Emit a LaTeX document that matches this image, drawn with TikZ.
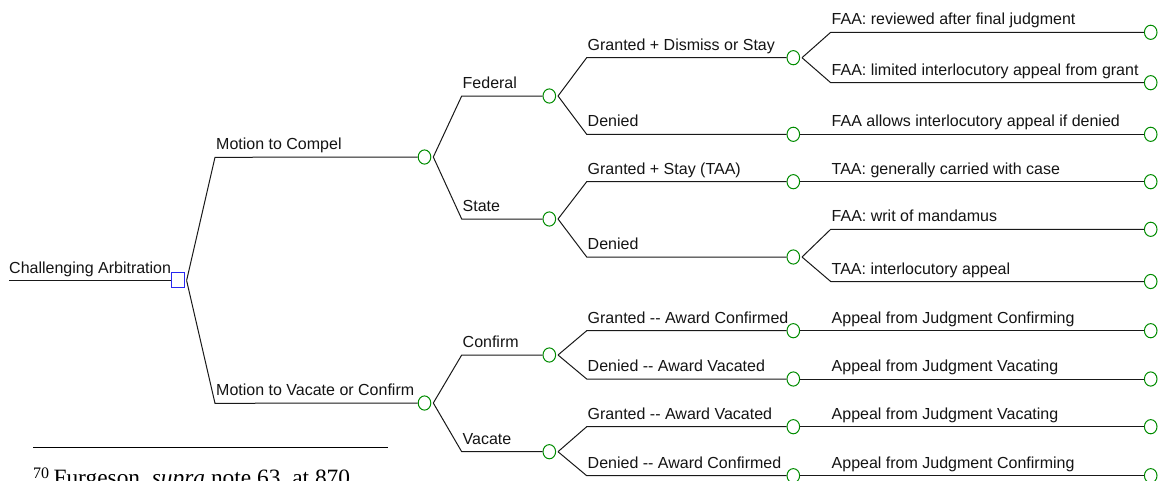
\documentclass[tikz,border=0pt]{standalone}
\usepackage{fontspec}
\setmainfont{Liberation Sans}
\newfontfamily\noteserif{Liberation Serif}
\usetikzlibrary{shapes.geometric}
\definecolor{chancegreen}{RGB}{0,140,0}
\definecolor{decblue}{RGB}{40,40,240}
\newcommand{\dd}{{-}{-}}
\tikzset{
  edge/.style={draw=black!90, line width=1pt},
  chance/.style={ellipse, draw=chancegreen, line width=1pt, minimum width=12.6pt, minimum height=14.2pt, inner sep=0pt, fill=white},
  decision/.style={rectangle, draw=decblue, line width=1pt, minimum width=12.6pt, minimum height=14.6pt, inner sep=0pt},
  lbl/.style={anchor=base west, inner sep=0pt, font=\fontsize{16}{19}\selectfont, text=black!92}
}
\begin{document}
\begin{tikzpicture}[x=1pt,y=-1pt]
\useasboundingbox (0,0) rectangle (1166,480);
\clip (0,0) rectangle (1166,480);

% ---------- root ----------
\coordinate (rs) at (9,280.7);
\node[decision] (r) at (178,280) {};
\coordinate (a0) at (186.6,280.5);
\draw[edge] (rs) -- (r.west |- rs);
\node[lbl] (tr) at (9,273.2) {Challenging Arbitration};

% ---------- level 1 ----------
\node[chance] (c1) at (424.5,157) {};
\node[chance] (c2) at (424.5,403) {};
\coordinate (s1) at (215,157.3);
\coordinate (s2) at (215,403.3);
\draw[edge] (a0) -- (s1) -- (c1.west);
\draw[edge] (a0) -- (s2) -- (c2.west);
\node[lbl] (t1) at (216,149.5) {Motion to Compel};
\node[lbl] (t2) at (216,395.5) {Motion to Vacate or Confirm};
\coordinate (a1) at (433.3,157);
\coordinate (a2) at (433.3,403);

% ---------- level 2 ----------
\node[chance] (c11) at (549.3,96) {};
\node[chance] (c12) at (549.3,219) {};
\node[chance] (c21) at (549.3,355) {};
\node[chance] (c22) at (549.3,451.7) {};
\coordinate (s11) at (461.7,96);
\coordinate (s12) at (461.7,219);
\coordinate (s21) at (461.7,355);
\coordinate (s22) at (461.7,451.7);
\draw[edge] (a1) -- (s11) -- (c11.west);
\draw[edge] (a1) -- (s12) -- (c12.west);
\draw[edge] (a2) -- (s21) -- (c21.west);
\draw[edge] (a2) -- (s22) -- (c22.west);
\node[lbl] (t11) at (462.5,88.5) {Federal};
\node[lbl] (t12) at (462.5,211.5) {State};
\node[lbl] (t21) at (462.5,347.5) {Confirm};
\node[lbl] (t22) at (462.5,444.2) {Vacate};
\coordinate (a11) at (558,96);
\coordinate (a12) at (558,219);
\coordinate (a21) at (558,355);
\coordinate (a22) at (558,451.7);

% ---------- level 3 ----------
\node[chance] (c111) at (793.3,57.7) {};
\node[chance] (c112) at (793.3,134.3) {};
\node[chance] (c121) at (793.3,181.7) {};
\node[chance] (c122) at (793.3,257) {};
\node[chance] (c211) at (793.3,330.7) {};
\node[chance] (c212) at (793.3,379) {};
\node[chance] (c221) at (793.3,426.7) {};
\node[chance] (c222) at (793.3,475.7) {};
\coordinate (s111) at (586.7,57.7);
\coordinate (s112) at (586.7,134.3);
\coordinate (s121) at (586.7,181.7);
\coordinate (s122) at (586.7,257);
\coordinate (s211) at (586.7,330.7);
\coordinate (s212) at (586.7,379);
\coordinate (s221) at (586.7,426.7);
\coordinate (s222) at (586.7,475.7);
\draw[edge] (a11) -- (s111) -- (c111.west);
\draw[edge] (a11) -- (s112) -- (c112.west);
\draw[edge] (a12) -- (s121) -- (c121.west);
\draw[edge] (a12) -- (s122) -- (c122.west);
\draw[edge] (a21) -- (s211) -- (c211.west);
\draw[edge] (a21) -- (s212) -- (c212.west);
\draw[edge] (a22) -- (s221) -- (c221.west);
\draw[edge] (a22) -- (s222) -- (c222.west);
\node[lbl] (t111) at (587.5,50.2) {Granted + Dismiss or Stay};
\node[lbl] (t112) at (587.5,126.8) {Denied};
\node[lbl] (t121) at (587.5,174.2) {Granted + Stay (TAA)};
\node[lbl] (t122) at (587.5,249.5) {Denied};
\node[lbl] (t211) at (587.5,323.2) {Granted \dd{} Award Confirmed};
\node[lbl] (t212) at (587.5,371.5) {Denied \dd{} Award Vacated};
\node[lbl] (t221) at (587.5,419.2) {Granted \dd{} Award Vacated};
\node[lbl] (t222) at (587.5,468.2) {Denied \dd{} Award Confirmed};
\coordinate (a111) at (802,57.7);
\coordinate (a122) at (802,257);

% ---------- level 4 (leaves) ----------
\node[chance] (e1) at (1150.7,32.3) {};
\node[chance] (e2) at (1150.7,82.7) {};
\node[chance] (e3) at (1150.7,134.3) {};
\node[chance] (e4) at (1150.7,181.7) {};
\node[chance] (e5) at (1150.7,229.3) {};
\node[chance] (e6) at (1150.7,281.5) {};
\node[chance] (e7) at (1150.7,330.7) {};
\node[chance] (e8) at (1150.7,379) {};
\node[chance] (e9) at (1150.7,426.7) {};
\node[chance] (e10) at (1150.7,475.7) {};
\coordinate (u1) at (830.7,32.3);
\coordinate (u2) at (830.7,82.7);
\coordinate (u5) at (830.7,229.3);
\coordinate (u6) at (830.7,281.5);
\draw[edge] (a111) -- (u1) -- (e1.west);
\draw[edge] (a111) -- (u2) -- (e2.west);
\draw[edge] (c112.east) -- (e3.west);
\draw[edge] (c121.east) -- (e4.west);
\draw[edge] (a122) -- (u5) -- (e5.west);
\draw[edge] (a122) -- (u6) -- (e6.west);
\draw[edge] (c211.east) -- (e7.west);
\draw[edge] (c212.east) -- (e8.west);
\draw[edge] (c221.east) -- (e9.west);
\draw[edge] (c222.east) -- (e10.west);
\node[lbl] (l1) at (831.5,24.8) {FAA: reviewed after final judgment};
\node[lbl] (l2) at (831.5,75.2) {FAA: limited interlocutory appeal from grant};
\node[lbl] (l3) at (831.5,126.8) {FAA allows interlocutory appeal if denied};
\node[lbl] (l4) at (831.5,174.2) {TAA: generally carried with case};
\node[lbl] (l5) at (831.5,221.8) {FAA: writ of mandamus};
\node[lbl] (l6) at (831.5,274) {TAA: interlocutory appeal};
\node[lbl] (l7) at (831.5,323.2) {Appeal from Judgment Confirming};
\node[lbl] (l8) at (831.5,371.5) {Appeal from Judgment Vacating};
\node[lbl] (l9) at (831.5,419.2) {Appeal from Judgment Vacating};
\node[lbl] (l10) at (831.5,468.2) {Appeal from Judgment Confirming};

% ---------- footnote ----------
\coordinate (fr1) at (33,447.7);
\coordinate (fr2) at (388,447.7);
\draw[line width=1.4pt, black] (fr1) -- (fr2);
\node[anchor=base west, inner sep=0pt, font=\noteserif\fontsize{16}{18}\selectfont] (fnum) at (33,478.5) {70};
\node[anchor=base west, inner sep=0pt, font=\noteserif\fontsize{23.4}{26}\selectfont] (ftext) at (53.3,485.5) {Furgeson, \textit{supra} note 63, at 870};
\end{tikzpicture}
\end{document}
